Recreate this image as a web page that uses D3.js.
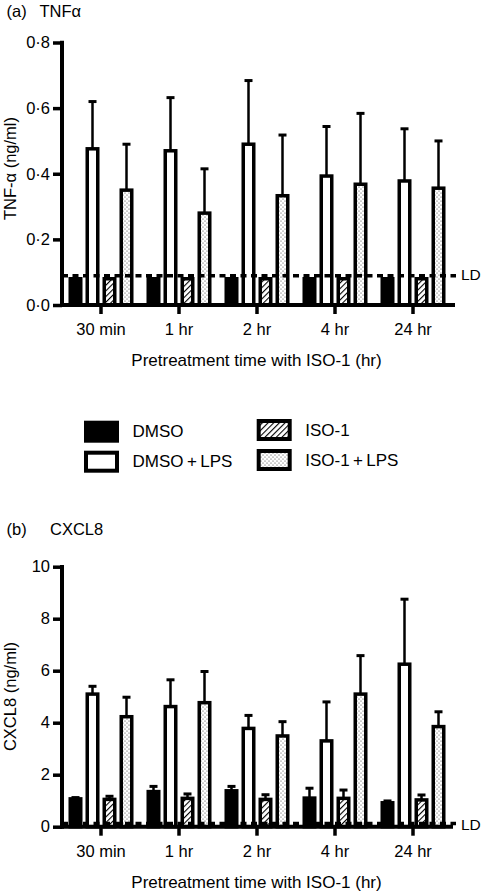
<!DOCTYPE html>
<html><head><meta charset="utf-8">
<script src="https://cdn.jsdelivr.net/npm/d3@7"></script>
<style>
body{margin:0;background:#fff}
svg text{font-family:"Liberation Sans",Arial,Helvetica,sans-serif;fill:#000}
</style>
</head><body><svg id="c" width="490" height="895"></svg>
<script>
// ---------- data ----------
const groups = ["30 min", "1 hr", "2 hr", "4 hr", "24 hr"];
const series = ["DMSO", "DMSO + LPS", "ISO-1", "ISO-1 + LPS"];

// Panel (a) TNF-alpha (ng/ml): means and upper error (SEM)
const tnfDMSO       = [0.08, 0.08, 0.08, 0.08, 0.08];
const tnfDMSOLPS    = [0.476, 0.47, 0.49, 0.393, 0.378];
const tnfDMSOLPSerr = [0.144, 0.162, 0.194, 0.151, 0.159];
const tnfISO        = [0.08, 0.08, 0.08, 0.08, 0.08];
const tnfISOLPS     = [0.35, 0.28, 0.333, 0.368, 0.356];
const tnfISOLPSerr  = [0.14, 0.135, 0.185, 0.216, 0.144];
const tnfTicks      = [0, 0.2, 0.4, 0.6, 0.8];
const tnfLD         = 0.089;

// Panel (b) CXCL8 (ng/ml)
const cxDMSO        = [1.07, 1.35, 1.38, 1.1, 0.92];
const cxDMSOerr     = [0.05, 0.2, 0.17, 0.38, 0.07];
const cxDMSOLPS     = [5.1, 4.62, 3.78, 3.3, 6.25];
const cxDMSOLPSerr  = [0.3, 1.03, 0.5, 1.5, 2.5];
const cxISO         = [1.05, 1.09, 1.05, 1.09, 1.03];
const cxISOerr      = [0.12, 0.17, 0.18, 0.32, 0.19];
const cxISOLPS      = [4.23, 4.77, 3.49, 5.1, 3.85];
const cxISOLPSerr   = [0.75, 1.2, 0.55, 1.48, 0.57];
const cxTicks       = [0, 2, 4, 6, 8, 10];
const cxLD          = 0.12;

// ---------- drawing ----------
const svg = d3.select("#c");
svg.append("rect").attr("width", 490).attr("height", 895).attr("fill", "#fff");

const defs = svg.append("defs");
const hatch = defs.append("pattern").attr("id", "hatch").attr("patternUnits", "userSpaceOnUse")
  .attr("width", 4).attr("height", 4).attr("patternTransform", "rotate(45)");
hatch.append("rect").attr("width", 4).attr("height", 4).attr("fill", "#fff");
hatch.append("line").attr("x1", 0).attr("y1", 0).attr("x2", 0).attr("y2", 4)
  .attr("stroke", "#000").attr("stroke-width", 2.2);
const dots = defs.append("pattern").attr("id", "dots").attr("patternUnits", "userSpaceOnUse")
  .attr("width", 4).attr("height", 4);
dots.append("rect").attr("width", 4).attr("height", 4).attr("fill", "#fff");
dots.append("circle").attr("cx", 1).attr("cy", 1).attr("r", 0.55).attr("fill", "#333");
dots.append("circle").attr("cx", 3).attr("cy", 3).attr("r", 0.55).attr("fill", "#333");

const fills = { "DMSO": "#000", "DMSO + LPS": "#fff", "ISO-1": "url(#hatch)", "ISO-1 + LPS": "url(#dots)" };
const FONT = "16.5px";

function panel(cfg) {
  const g = svg.append("g");
  const x0 = d3.scaleBand().domain(groups).range([62, 452]);
  const x1 = d3.scaleBand().domain(series).range([0, x0.bandwidth()]).paddingInner(0.382).paddingOuter(0.485);
  const y = d3.scaleLinear().domain(cfg.domain).range(cfg.range);

  const rows = [];
  groups.forEach((gr, i) => {
    series.forEach((s, j) => {
      const v = cfg.vals[j][i];
      const e = cfg.errs[j] ? cfg.errs[j][i] : null;
      rows.push({ gr, s, v, e });
    });
  });

  // error bars
  const eb = g.selectAll("g.eb").data(rows.filter(d => d.e != null)).join("g");
  eb.append("line")
    .attr("x1", d => x0(d.gr) + x1(d.s) + x1.bandwidth() / 2)
    .attr("x2", d => x0(d.gr) + x1(d.s) + x1.bandwidth() / 2)
    .attr("y1", d => y(d.v)).attr("y2", d => y(d.v + d.e))
    .attr("stroke", "#000").attr("stroke-width", 2.5);
  eb.append("line")
    .attr("x1", d => x0(d.gr) + x1(d.s) + x1.bandwidth() / 2 - 4)
    .attr("x2", d => x0(d.gr) + x1(d.s) + x1.bandwidth() / 2 + 4)
    .attr("y1", d => y(d.v + d.e)).attr("y2", d => y(d.v + d.e))
    .attr("stroke", "#000").attr("stroke-width", 3);

  // bars
  g.selectAll("rect.bar").data(rows).join("rect")
    .attr("x", d => x0(d.gr) + x1(d.s))
    .attr("width", x1.bandwidth())
    .attr("y", d => y(d.v))
    .attr("height", d => y(0) - y(d.v))
    .attr("fill", d => fills[d.s])
    .attr("stroke", "#000").attr("stroke-width", 3.5);

  // LD dashed line
  g.append("line").attr("x1", 62).attr("x2", 456)
    .attr("y1", y(cfg.ld)).attr("y2", y(cfg.ld))
    .attr("stroke", "#000").attr("stroke-width", 3.5).attr("stroke-dasharray", "6,4.5");
  g.append("text").attr("x", 461).attr("y", cfg.ldY).attr("font-size", "15.5px").text("LD");

  // y axis
  const ya = g.append("g").attr("transform", "translate(62,0)")
    .call(d3.axisLeft(y).tickValues(cfg.ticks).tickSize(9).tickPadding(3).tickFormat(cfg.fmt));
  ya.select(".domain").remove();
  ya.selectAll(".tick line").attr("stroke", "#000").attr("stroke-width", 3.5);
  ya.selectAll(".tick text").attr("font-size", FONT).attr("font-family", null);
  g.append("line").attr("x1", 62).attr("x2", 62).attr("y1", y(cfg.domain[1]) - 1.75).attr("y2", y(0) + 2)
    .attr("stroke", "#000").attr("stroke-width", 4);

  // x axis
  const xa = g.append("g").attr("transform", `translate(0,${y(0)})`)
    .call(d3.axisBottom(x0).tickSize(9).tickPadding(0).tickSizeOuter(0));
  xa.select(".domain").remove();
  xa.selectAll(".tick line").attr("stroke", "#000").attr("stroke-width", 3.5);
  xa.selectAll(".tick text").attr("font-size", FONT).attr("font-family", null)
    .attr("dy", null).attr("y", 30);
  g.append("line").attr("x1", 60).attr("x2", cfg.xEnd).attr("y1", y(0)).attr("y2", y(0))
    .attr("stroke", "#000").attr("stroke-width", 4);

  g.append("text").attr("x", 256.5).attr("y", y(0) + 61).attr("text-anchor", "middle")
    .attr("font-size", "17px").text("Pretreatment time with ISO-1 (hr)");
  g.append("text").attr("transform", `translate(15.5,${cfg.yTitleY}) rotate(-90)`)
    .attr("text-anchor", "middle").attr("font-size", "16.5px").text(cfg.yTitle);

  g.append("text").attr("x", 6.5).attr("y", cfg.titleY).attr("font-size", "16.5px").text(cfg.tag);
  g.append("text").attr("x", cfg.titleX).attr("y", cfg.titleY).attr("font-size", "16.5px").text(cfg.title);
}

const dot = v => d3.format(".1f")(v).replace(".", "·");

panel({
  domain: [0, 0.8], range: [305, 42.5], ticks: tnfTicks, fmt: dot,
  vals: [tnfDMSO, tnfDMSOLPS, tnfISO, tnfISOLPS],
  errs: [null, tnfDMSOLPSerr, null, tnfISOLPSerr],
  ld: tnfLD, ldY: 279.5, xEnd: 455,
  yTitle: "TNF-α (ng/ml)", yTitleY: 168.5,
  tag: "(a)", title: "TNFα", titleX: 39.5, titleY: 17
});

panel({
  domain: [0, 10], range: [826.7, 566.7], ticks: cxTicks, fmt: d3.format("d"),
  vals: [cxDMSO, cxDMSOLPS, cxISO, cxISOLPS],
  errs: [cxDMSOerr, cxDMSOLPSerr, cxISOerr, cxISOLPSerr],
  ld: cxLD, ldY: 829.5, xEnd: 453,
  yTitle: "CXCL8 (ng/ml)", yTitleY: 696.5,
  tag: "(b)", title: "CXCL8", titleX: 50, titleY: 535
});

// legend
const legend = svg.append("g");
const legPos = [
  { s: "DMSO", x: 86, y: 422.7 },
  { s: "DMSO + LPS", x: 86, y: 452.7 },
  { s: "ISO-1", x: 258.7, y: 421 },
  { s: "ISO-1 + LPS", x: 258.7, y: 451 }
];
legPos.forEach(p => {
  legend.append("rect").attr("x", p.x).attr("y", p.y).attr("width", 31).attr("height", 18)
    .attr("fill", fills[p.s]).attr("stroke", "#000").attr("stroke-width", 4);
  legend.append("text").attr("x", p.x + 46.5).attr("y", p.y + 14.5).attr("font-size", "17px")
    .text(p.s.replace(" + ", "\u2009+\u2009"));
});
</script>
</body></html>
